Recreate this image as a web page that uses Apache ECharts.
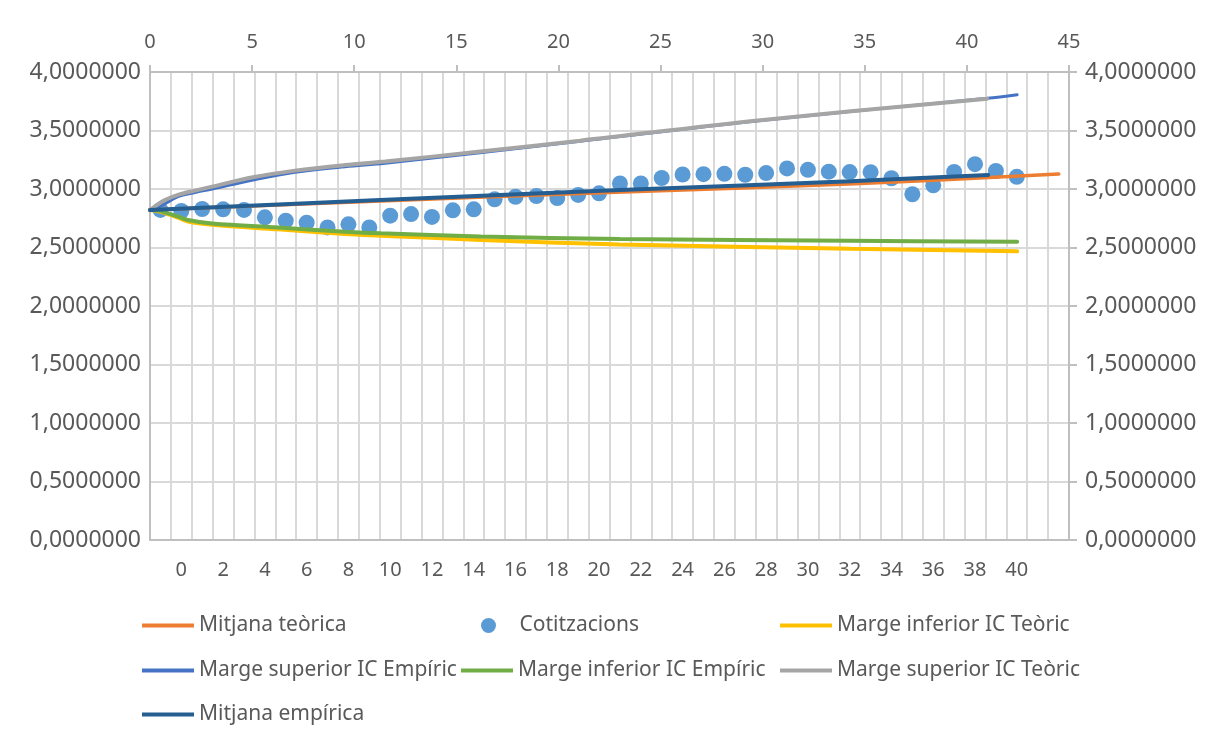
<!DOCTYPE html>
<html>
<head>
<meta charset="utf-8">
<script src="https://cdn.jsdelivr.net/npm/echarts@6/dist/echarts.min.js"></script>
<style>
html,body{margin:0;padding:0;background:#fff;}
#chart{width:1206px;height:745px;}
</style>
</head>
<body>
<div id="chart"></div>
<script>
// Bottom category axis (44 bands); labels shown every other band
const categoryLabels = ["", "0", "1", "2", "3", "4", "5", "6", "7", "8", "9", "10", "11", "12", "13", "14", "15", "16", "17", "18", "19", "20", "21", "22", "23", "24", "25", "26", "27", "28", "29", "30", "31", "32", "33", "34", "35", "36", "37", "38", "39", "40", "41", "42"];
// Top value axis ticks
const topTicks = { min: 0, max: 45, step: 5 };
// Y axis ticks
const yTicks = { min: 0, max: 4, step: 0.5 };

// Cotitzacions (one per category band, starting at the first band)
const cotitzacions = [2.821, 2.812, 2.829, 2.826, 2.821, 2.758, 2.729, 2.712, 2.672, 2.698, 2.672,
  2.772, 2.786, 2.761, 2.818, 2.826, 2.912, 2.934, 2.940, 2.923, 2.949, 2.963, 3.048, 3.048,
  3.094, 3.124, 3.127, 3.130, 3.122, 3.136, 3.176, 3.164, 3.148, 3.145, 3.144, 3.092, 2.955,
  3.031, 3.146, 3.212, 3.154, 3.104];

// Lines (x on top value axis)
const tMitjanaTeorica = [0, 11.3, 22.8, 34.5, 44.5];
const mitjanaTeorica = [2.82, 2.897, 2.972, 3.045, 3.128];

const tMitjanaEmpirica = [0, 11.26, 23.0, 34.3, 41.04];
const mitjanaEmpirica = [2.82, 2.906, 2.991, 3.067, 3.12];

const tSupTeoric = [0, 0.4, 0.73, 1.37, 2.2, 3.04, 5.04, 7.1, 9.55, 11.51, 16.16, 21.06, 30.02, 41.0];
const supTeoric = [2.82, 2.87, 2.906, 2.95, 2.986, 3.02, 3.10, 3.157, 3.205, 3.235, 3.32, 3.413, 3.59, 3.772];

const tSupEmpiric = [0, 0.4, 0.9, 1.37, 2.2, 3.04, 5.04, 7.1, 9.55, 11.51, 16.16, 21.06, 30.02, 41.0, 42.46];
const supEmpiric = [2.82, 2.845, 2.89, 2.935, 2.97, 3.00, 3.077, 3.143, 3.191, 3.22, 3.31, 3.408, 3.588, 3.775, 3.806];

const tInfEmpiric = [0, 0.4, 0.73, 1.37, 1.86, 3.04, 6.27, 9.55, 11.3, 16.2, 23.0, 34.3, 42.46];
const infEmpiric = [2.82, 2.815, 2.80, 2.765, 2.735, 2.705, 2.67, 2.635, 2.621, 2.595, 2.573, 2.557, 2.55];

const tInfTeoric = [0, 0.4, 0.73, 1.37, 1.86, 3.04, 6.27, 9.55, 11.3, 16.2, 23.0, 34.3, 42.46];
const infTeoric = [2.82, 2.81, 2.795, 2.755, 2.722, 2.695, 2.655, 2.615, 2.601, 2.565, 2.526, 2.489, 2.467];

const seriesNames = ["Mitjana teòrica", "Cotitzacions", "Marge inferior IC Teòric",
  "Marge superior IC Empíric", "Marge inferior IC Empíric", "Marge superior IC Teòric", "Mitjana empírica"];
const seriesColors = ["#ED7D31", "#5B9BD5", "#FFC000", "#4472C4", "#70AD47", "#A5A5A5", "#255E91"];

const zip = (xs, ys) => xs.map((x, i) => [x, ys[i]]);
const FONT = "Noto Sans";
const TXT = "#595959";
const yFmt = v => v.toFixed(7).replace('.', ',');

function lineSeries(idx, xs, ys, width) {
  return {
    name: seriesNames[idx], type: 'line', xAxisIndex: 0, yAxisIndex: 1,
    data: zip(xs, ys), symbol: 'none', smooth: 0.35,
    lineStyle: { color: seriesColors[idx], width: width || 3.5, cap: 'round' },
    itemStyle: { color: seriesColors[idx] }
  };
}

const legendPos = [
  [142, 615], [481, 615], [780, 615],
  [142, 660], [461, 660], [780, 660],
  [142, 704]
];

const chart = echarts.init(document.getElementById('chart'), null, { renderer: 'canvas' });
chart.setOption({
  animation: false,
  backgroundColor: '#fff',
  textStyle: { fontFamily: FONT },
  grid: { left: 150, right: 137, top: 72, bottom: 205, containLabel: false },
  legend: seriesNames.map((n, i) => {
    const isDot = i === 1;
    return {
      data: [{ name: n, icon: isDot ? 'circle' : 'rect' }],
      left: legendPos[i][0], top: legendPos[i][1], padding: 0,
      itemWidth: 52, itemHeight: isDot ? 15 : 4, itemGap: 6,
      textStyle: { fontFamily: FONT, fontSize: 21, color: TXT }
    };
  }),
  xAxis: [
    {
      type: 'value', position: 'top', min: topTicks.min, max: topTicks.max, interval: topTicks.step,
      axisLine: { show: true, onZero: false, lineStyle: { color: '#BFBFBF', width: 2 } },
      axisTick: { show: true, inside: false, length: 7, lineStyle: { color: '#BFBFBF', width: 2 } },
      axisLabel: { fontFamily: FONT, fontSize: 20, color: TXT, margin: 20 },
      splitLine: { show: false }
    },
    {
      type: 'category', position: 'bottom', data: categoryLabels, boundaryGap: true,
      axisLine: { show: true, onZero: false, lineStyle: { color: '#BFBFBF', width: 2 } },
      axisTick: { show: false },
      axisLabel: {
        fontFamily: FONT, fontSize: 20, color: TXT, margin: 20,
        interval: (i) => i % 2 === 1 && i < 43
      },
      splitLine: { show: true, interval: 0, lineStyle: { color: '#D9D9D9', width: 2 } }
    }
  ],
  yAxis: [
    {
      type: 'value', position: 'left', min: yTicks.min, max: yTicks.max, interval: yTicks.step,
      axisLine: { show: true, onZero: false, lineStyle: { color: '#BFBFBF', width: 2 } },
      axisTick: { show: false },
      axisLabel: { fontFamily: FONT, fontSize: 23, color: TXT, margin: 9, formatter: yFmt },
      splitLine: { show: true, lineStyle: { color: '#D9D9D9', width: 2 } }
    },
    {
      type: 'value', position: 'right', min: yTicks.min, max: yTicks.max, interval: yTicks.step,
      axisLine: { show: true, onZero: false, lineStyle: { color: '#BFBFBF', width: 2 } },
      axisTick: { show: true, inside: false, length: 8, lineStyle: { color: '#BFBFBF', width: 2 } },
      axisLabel: { fontFamily: FONT, fontSize: 23, color: TXT, margin: 16, formatter: yFmt },
      splitLine: { show: false }
    }
  ],
  series: [
    lineSeries(0, tMitjanaTeorica, mitjanaTeorica, 3.5),
    {
      name: seriesNames[1], type: 'scatter', xAxisIndex: 1, yAxisIndex: 0,
      data: cotitzacions, symbol: 'circle', symbolSize: 16,
      itemStyle: { color: seriesColors[1], opacity: 1 }
    },
    lineSeries(2, tInfTeoric, infTeoric, 4),
    lineSeries(3, tSupEmpiric, supEmpiric, 3),
    lineSeries(4, tInfEmpiric, infEmpiric, 4),
    lineSeries(5, tSupTeoric, supTeoric, 4),
    lineSeries(6, tMitjanaEmpirica, mitjanaEmpirica, 4)
  ]
});
</script>
</body>
</html>
